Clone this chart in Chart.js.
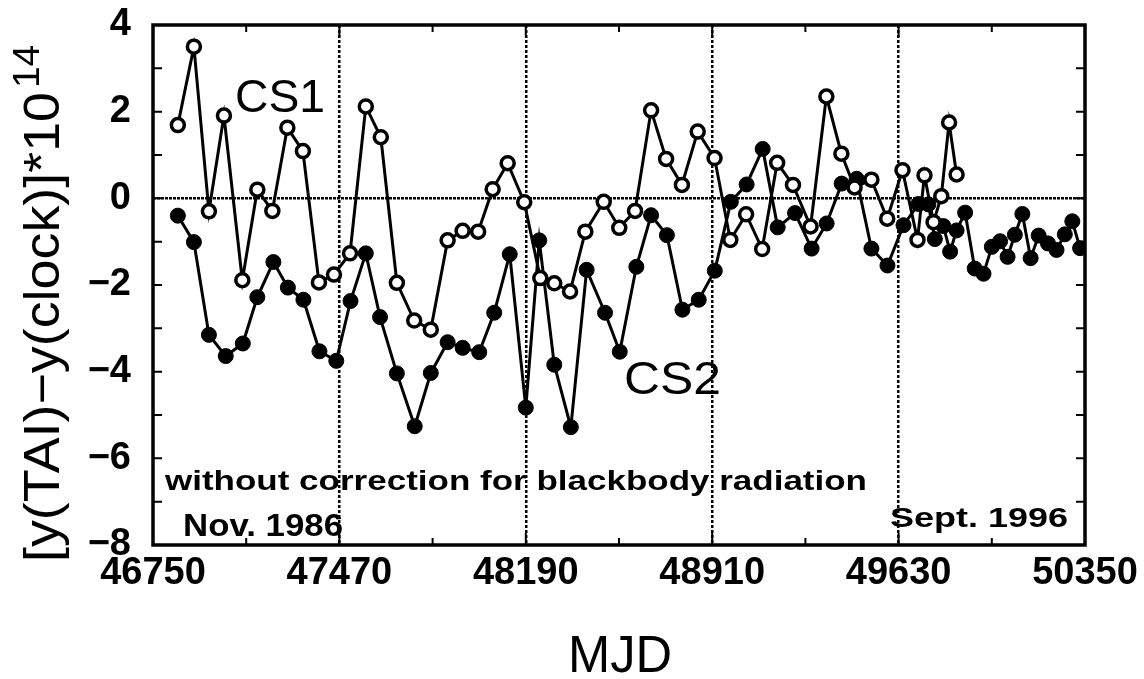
<!DOCTYPE html>
<html><head><meta charset="utf-8">
<script src="https://cdn.jsdelivr.net/npm/chart.js@4"></script>
<style>html,body{margin:0;padding:0;background:#fff}#wrap{width:1144px;height:679px}</style>
</head><body><div id="wrap"><canvas id="c" width="1144" height="679"></canvas></div>
<script>
// MJD values and y(TAI)-y(clock) (x1e14)
const cs1Mjd = [46846,46908,46966,47024,47095,47153,47211,47269,47329,47391,47449,47511,47572,47630,47692,47759,47823,47888,47946,48006,48062,48120,48184,48246,48300,48361,48420,48491,48551,48612,48674,48732,48793,48854,48919,48980,49041,49103,49161,49222,49290,49351,49409,49460,49525,49586,49645,49703,49730,49765,49795,49825,49854];
const cs1Val = [1.69,3.50,-0.30,1.91,-1.89,0.20,-0.29,1.63,1.09,-1.94,-1.76,-1.27,2.12,1.41,-1.95,-2.82,-3.03,-0.97,-0.75,-0.77,0.21,0.81,-0.09,-1.84,-1.96,-2.15,-0.77,-0.08,-0.68,-0.29,2.03,0.91,0.31,1.54,0.93,-0.96,-0.37,-1.17,0.82,0.31,-0.65,2.35,1.03,0.25,0.43,-0.47,0.65,-0.96,0.53,-0.55,0.05,1.75,0.55];
const cs2Mjd = [46846,46908,46966,47031,47097,47153,47215,47271,47331,47393,47458,47513,47572,47627,47692,47761,47823,47888,47946,48010,48068,48128,48190,48242,48300,48364,48425,48496,48553,48617,48674,48735,48795,48858,48920,48982,49043,49105,49163,49230,49294,49352,49410,49468,49525,49587,49649,49707,49745,49770,49803,49829,49854,49887,49924,49958,49990,50022,50051,50079,50108,50140,50171,50207,50240,50272,50301,50331];
const cs2Val = [-0.40,-1.01,-3.15,-3.64,-3.35,-2.28,-1.47,-2.06,-2.34,-3.53,-3.75,-2.37,-1.27,-2.74,-4.04,-5.26,-4.03,-3.32,-3.45,-3.55,-2.64,-1.29,-4.83,-0.97,-3.84,-5.28,-1.65,-2.64,-3.54,-1.58,-0.39,-0.85,-2.57,-2.34,-1.67,-0.08,0.32,1.14,-0.67,-0.34,-1.16,-0.58,0.34,0.45,-1.16,-1.55,-0.62,-0.13,-0.14,-0.94,-0.64,-1.23,-0.74,-0.33,-1.62,-1.74,-1.12,-0.99,-1.35,-0.84,-0.36,-1.38,-0.86,-1.04,-1.19,-0.83,-0.53,-1.15];
const xTickLabels = [46750,47470,48190,48910,49630,50350];
const xGridLines = [47470,48190,48910,49630];
const yTickLabels = [-8,-6,-4,-2,0,2,4];
const seriesNames = ['CS1','CS2'];
const noteText = 'without correction for blackbody radiation';
const startText = 'Nov. 1986';
const endText = 'Sept. 1996';
const yTitleMain = '[y(TAI)\u2212y(clock)]*10';
const yTitleSup = '14';
const xTitle = 'MJD';

const toXY = (xs, ys) => xs.map((x, i) => ({x, y: ys[i]}));
const FONT = '"Liberation Sans", Arial, sans-serif';

function drawScaled(ctx, text, x, y, size, weight, width, align) {
  ctx.save();
  ctx.font = weight + ' ' + size + 'px ' + FONT;
  const w = ctx.measureText(text).width;
  const s = width ? width / w : 1;
  ctx.translate(x, y);
  ctx.scale(s, 1);
  ctx.textAlign = align || 'left';
  ctx.textBaseline = 'alphabetic';
  ctx.fillStyle = '#000';
  ctx.fillText(text, 0, 0);
  ctx.restore();
}

const decor = {
  id: 'decor',
  afterDatasetsDraw(chart) {
    const {ctx, chartArea: a, scales: {x, y}} = chart;
    ctx.save();
    ctx.strokeStyle = '#000';
    // inward ticks
    ctx.lineWidth = 2;
    for (let v = 46750; v <= 50350; v += 360) {
      const px = x.getPixelForValue(v);
      const major = ((v - 46750) % 720) === 0;
      const len = major ? 12 : 7;
      ctx.beginPath();
      ctx.moveTo(px, a.bottom); ctx.lineTo(px, a.bottom - len);
      ctx.moveTo(px, a.top); ctx.lineTo(px, a.top + len);
      ctx.stroke();
    }
    for (let v = -8; v <= 4; v += 1) {
      const py = y.getPixelForValue(v);
      const len = 9;
      ctx.beginPath();
      ctx.moveTo(a.left, py); ctx.lineTo(a.left + len, py);
      ctx.moveTo(a.right, py); ctx.lineTo(a.right - len, py);
      ctx.stroke();
    }
    // frame
    ctx.lineWidth = 3.5;
    ctx.strokeRect(a.left, a.top, a.right - a.left, a.bottom - a.top);
    ctx.restore();

    // annotations
    drawScaled(ctx, seriesNames[0], 235, 112, 47, 'normal', 90);
    drawScaled(ctx, seriesNames[1], 624, 394, 47, 'normal', 97);
    drawScaled(ctx, noteText, 165, 490, 27, 'bold', 702);
    drawScaled(ctx, startText, 183, 536, 31, 'bold', 160);
    drawScaled(ctx, endText, 890, 527, 27, 'bold', 178);

    // x title
    drawScaled(ctx, xTitle, 620, 672, 52, 'normal', 104, 'center');

    // y title rotated
    ctx.save();
    ctx.translate(59, 562);
    ctx.rotate(-Math.PI / 2);
    ctx.fillStyle = '#000';
    ctx.textBaseline = 'alphabetic';
    ctx.textAlign = 'left';
    ctx.font = 'normal 50px ' + FONT;
    const w1 = ctx.measureText(yTitleMain).width;
    const sx = 470 / w1;
    ctx.save();
    ctx.scale(sx, 1);
    ctx.fillText(yTitleMain, 0, 0);
    ctx.restore();
    ctx.font = 'normal 36px ' + FONT;
    ctx.save();
    ctx.translate(w1 * sx + 4, -20);
    ctx.scale(sx, 1);
    ctx.fillText(yTitleSup, 0, 0);
    ctx.restore();
    ctx.restore();
  }
};

new Chart(document.getElementById('c'), {
  type: 'scatter',
  data: {
    datasets: [
      {
        label: seriesNames[0],
        data: toXY(cs1Mjd, cs1Val),
        showLine: true,
        borderColor: '#000',
        borderWidth: 3,
        pointRadius: 6.5,
        pointBorderWidth: 3.5,
        pointBackgroundColor: '#fff',
        pointBorderColor: '#000',
        tension: 0
      },
      {
        label: seriesNames[1],
        data: toXY(cs2Mjd, cs2Val),
        showLine: true,
        borderColor: '#000',
        borderWidth: 3,
        pointRadius: 7.5,
        pointBorderWidth: 1,
        pointBackgroundColor: '#000',
        pointBorderColor: '#000',
        tension: 0
      }
    ]
  },
  options: {
    responsive: false,
    animation: false,
    events: [],
    layout: {padding: {left: 0, right: 59, top: 25, bottom: 0}},
    plugins: {legend: {display: false}, tooltip: {enabled: false}, title: {display: false}},
    scales: {
      x: {
        type: 'linear',
        min: 46750, max: 50350,
        afterFit(s) { s.height = 134; },
        afterBuildTicks(s) {
          const t = [];
          for (let v = 46750; v <= 50350; v += 360) t.push({value: v});
          s.ticks = t;
        },
        ticks: {
          autoSkip: false, maxRotation: 0, padding: 6,
          color: '#000',
          font: {family: FONT, size: 38, weight: 'bold'},
          callback: (v) => xTickLabels.includes(v) ? String(v) : ''
        },
        grid: {
          drawTicks: false,
          lineWidth: 2.5,
          color: (c) => (c.tick && xGridLines.includes(c.tick.value)) ? '#000' : 'rgba(0,0,0,0)'
        },
        border: {display: false, dash: [3, 2]}
      },
      y: {
        min: -8, max: 4,
        afterFit(s) { s.width = 153; s.paddingTop = 0; s.paddingBottom = 0; },
        afterBuildTicks(s) { s.ticks = yTickLabels.map(v => ({value: v})); },
        ticks: {
          padding: 22,
          color: '#000',
          font: {family: FONT, size: 38, weight: 'bold', lineHeight: 0.5},
          callback: (v) => String(v).replace('-', '\u2212')
        },
        grid: {
          drawTicks: false,
          lineWidth: 2.5,
          color: (c) => (c.tick && c.tick.value === 0) ? '#000' : 'rgba(0,0,0,0)'
        },
        border: {display: false, dash: [3, 1]}
      }
    }
  },
  plugins: [decor]
});
</script></body></html>
